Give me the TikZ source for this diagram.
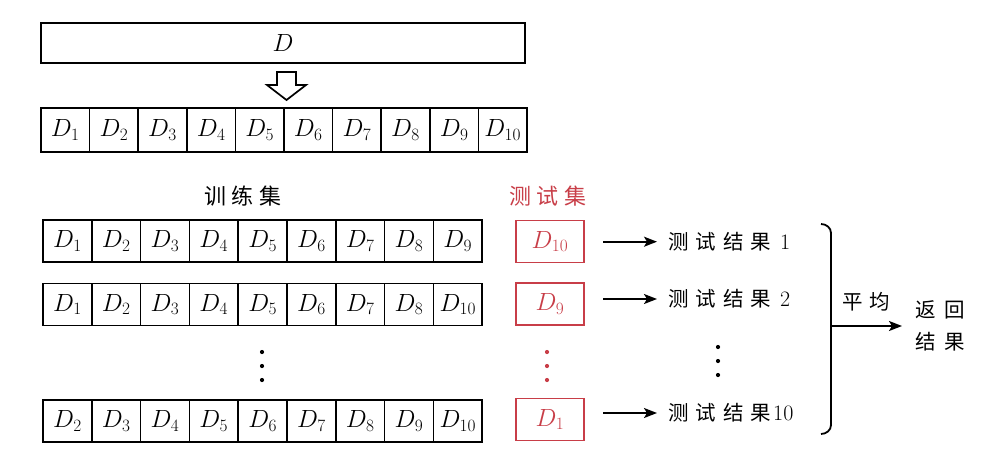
\documentclass[tikz,border=0pt]{standalone}
\usepackage{fontspec}
\newfontfamily\cjk{Noto Sans CJK SC}
\usetikzlibrary{arrows.meta}
\definecolor{testred}{RGB}{200,62,72}
\newcommand{\zhgap}[1]{\hspace{#1pt}}
\begin{document}
\begin{tikzpicture}[x=1pt,y=-1pt,
  cell/.style={draw, line width=1.6pt, minimum width=48.6pt, minimum height=44pt, inner sep=0pt, font=\fontsize{24}{26}\selectfont},
  tcell/.style={cell, minimum width=48.8pt, minimum height=42pt},
  redbox/.style={draw=testred, text=testred, line width=1.8pt, minimum width=68pt, minimum height=42pt, inner sep=0pt, font=\fontsize{24}{26}\selectfont},
  zh/.style={inner sep=0pt, font=\fontsize{20.5}{32}\selectfont\cjk},
  res/.style={zh, anchor=west},
  arr/.style={-{Stealth[length=13pt,width=10pt,inset=3pt]}, line width=1.8pt},
  dot/.style={circle, fill, inner sep=0pt, minimum size=4.2pt},
]
\useasboundingbox (0,0) rectangle (987,472);
% top full data set
\node[draw, line width=1.6pt, minimum width=484pt, minimum height=40pt, inner sep=0pt,
      font=\fontsize{27}{30}\selectfont] (D) at (283,43) {$D$};
% hollow arrow
\draw[line width=1.7pt, fill=white] (277,72) -- (296,72) -- (296,85) -- (306,85) -- (286.5,100) -- (267,85) -- (277,85) -- cycle;
% split row
\foreach \i in {1,...,10}
  \node[cell] (t\i) at ({41+48.6*(\i-0.5)},130) {$D_{\i}$};
% headers
\node[zh, font=\fontsize{22}{26}\selectfont\cjk] (train) at (243,196) {训\zhgap{6}练\zhgap{6}集};
\node[zh, font=\fontsize{22}{26}\selectfont\cjk, text=testred] (test) at (548,196) {测\zhgap{6}试\zhgap{6}集};
% training rows
\foreach \lab [count=\i] in {1,...,9}
  \node[tcell] (ra\i) at ({43+48.8*(\i-0.5)},241) {$D_{\lab}$};
\foreach \lab [count=\i] in {1,2,3,4,5,6,7,8,10}
  \node[tcell] (rb\i) at ({43+48.8*(\i-0.5)},304.5) {$D_{\lab}$};
\foreach \lab [count=\i] in {2,...,10}
  \node[tcell] (rc\i) at ({43+48.8*(\i-0.5)},421) {$D_{\lab}$};
% test boxes
\node[redbox] (te1) at (550,241.5) {$D_{10}$};
\node[redbox] (te2) at (550,304) {$D_{9}$};
\node[redbox] (te3) at (550,419.5) {$D_{1}$};
% dots
\foreach \y in {352,366,380} {
  \node[dot] at (262,\y) {};
  \node[dot, testred] at (547,\y) {};
}
\foreach \y in {347,361,375}
  \node[dot] at (718,\y) {};
% results
\node[res] (res1) at (668,241.7) {测\zhgap{7}试\zhgap{7}结\zhgap{7}果\zhgap{9}{\fontsize{22}{24}\selectfont\rmfamily 1}};
\node[res] (res2) at (668,299) {测\zhgap{7}试\zhgap{7}结\zhgap{7}果\zhgap{9}{\fontsize{22}{24}\selectfont\rmfamily 2}};
\node[res] (res3) at (668,413) {测\zhgap{7}试\zhgap{7}结\zhgap{7}果\zhgap{2}{\fontsize{22}{24}\selectfont\rmfamily 10}};
\coordinate (s1) at (603,241.7);
\coordinate (s2) at (603,299);
\coordinate (s3) at (603,413);
\foreach \k in {1,2,3}
  \draw[arr] (s\k) -- ([xshift=-11pt]res\k.west);
% brace
\draw[line width=1.8pt] (821,224) to[out=0,in=90] (831,233) -- (831,425) to[out=-90,in=0] (821,434);
\coordinate (bm) at (831,326);
\node[zh] (avg) at (866,302) {平\zhgap{7}均};
\node[zh, align=center, anchor=west] (ret) at (915,326) {返\zhgap{9}回\\结\zhgap{9}果};
\draw[arr] (bm) -- ([xshift=-13pt]ret.west);
\end{tikzpicture}
\end{document}
